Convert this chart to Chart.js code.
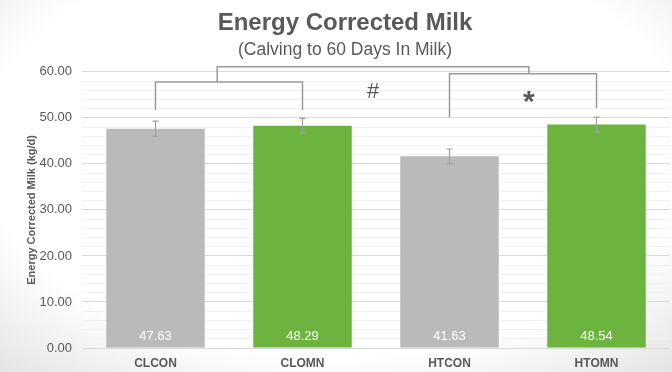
<!DOCTYPE html>
<html>
<head>
<meta charset="utf-8">
<script src="https://cdn.jsdelivr.net/npm/chart.js@4.4.0/dist/chart.umd.min.js"></script>
<style>
	html, body { margin: 0; padding: 0; }
	body {
		width: 672px;
		height: 372px;
		background: radial-gradient(ellipse 75% 80% at 50% 40%, #ffffff 70%, #e4e4e4 100%);
	}
	#wrap { width: 672px; height: 372px; }
</style>
</head>
<body>
<div id="wrap"><canvas id="ecm-chart"></canvas></div>
<script>
// data
const groups = ['CLCON', 'CLOMN', 'HTCON', 'HTOMN'];
const ecmValues = [47.63, 48.29, 41.63, 48.54];
const ecmErrors = [1.65, 1.6, 1.6, 1.6];
const barColors = ['#babbb8', '#6db33f', '#babbb8', '#6db33f'];
const yTicks = [0, 10, 20, 30, 40, 50, 60];

// significance brackets: [from index, to index, bar height, left leg end, right leg end]
const bracketLeft = [0, 1, 57.8, 51.7, 51.7];
const bracketRight = [2, 3, 59.6, 50.2, 52.1];
const bracketTop = [0.42, 2.54, 61.1, 57.8, 59.6];
const sigMarks = [
	{ text: '#', x: 1.48, y: 55.6 },
	{ text: '*', x: 2.54, y: 54.6 },
];

const textGray = '#595959';

// ===================== Plugins ===========================

const errorBars = {
	id: 'errorBars',
	afterDatasetsDraw(chart) {
		const ctx = chart.ctx;
		const y = chart.scales.y;
		const meta = chart.getDatasetMeta(0);
		ctx.save();
		ctx.strokeStyle = '#a0a0a0';
		ctx.lineWidth = 1.2;
		meta.data.forEach((bar, i) => {
			const top = y.getPixelForValue(ecmValues[i] + ecmErrors[i]);
			const bot = y.getPixelForValue(ecmValues[i] - ecmErrors[i]);
			ctx.beginPath();
			ctx.moveTo(bar.x, top);
			ctx.lineTo(bar.x, bot);
			ctx.moveTo(bar.x - 3, top);
			ctx.lineTo(bar.x + 3, top);
			ctx.moveTo(bar.x - 3, bot);
			ctx.lineTo(bar.x + 3, bot);
			ctx.stroke();
		});
		// values inside bars
		ctx.fillStyle = '#ffffff';
		ctx.font = '13px "Liberation Sans", Arial, sans-serif';
		ctx.textAlign = 'center';
		ctx.textBaseline = 'middle';
		meta.data.forEach((bar, i) => {
			ctx.fillText(ecmValues[i].toFixed(2), bar.x, y.getPixelForValue(0) - 12);
		});
		ctx.restore();
	},
};

const brackets = {
	id: 'brackets',
	afterDraw(chart) {
		const ctx = chart.ctx;
		const x = chart.scales.x;
		const y = chart.scales.y;
		const px = (v) => {
			const lo = Math.floor(v);
			const hi = Math.min(lo + 1, groups.length - 1);
			const a = x.getPixelForValue(lo);
			const b = x.getPixelForValue(hi);
			return a + (b - a) * (v - lo);
		};
		ctx.save();
		ctx.strokeStyle = '#9a9a9a';
		ctx.lineWidth = 1.5;
		[bracketLeft, bracketRight, bracketTop].forEach((b) => {
			const x1 = px(b[0]);
			const x2 = px(b[1]);
			ctx.beginPath();
			ctx.moveTo(x1, y.getPixelForValue(b[3]));
			ctx.lineTo(x1, y.getPixelForValue(b[2]));
			ctx.lineTo(x2, y.getPixelForValue(b[2]));
			ctx.lineTo(x2, y.getPixelForValue(b[4]));
			ctx.stroke();
		});
		ctx.fillStyle = textGray;
		ctx.textAlign = 'center';
		ctx.textBaseline = 'middle';
		sigMarks.forEach((m) => {
			ctx.font = m.text === '*' ? 'bold 30px "Liberation Sans", Arial, sans-serif' : '22px "Liberation Sans", Arial, sans-serif';
			ctx.fillText(m.text, px(m.x), y.getPixelForValue(m.y) + (m.text === '*' ? 6 : 0));
		});
		ctx.restore();
	},
};

// ===================== Chart ===========================

const ecmCanvas = document.querySelector('#ecm-chart');

const ecmData = {
	labels: groups,
	datasets: [
		{
			data: ecmValues,
			backgroundColor: barColors,
			categoryPercentage: 0.67,
			barPercentage: 1,
		},
	],
};

const ecmOptions = {
	responsive: true,
	maintainAspectRatio: false,
	animation: false,
	layout: {
		padding: { left: 20, right: 2, top: 2, bottom: -8 },
	},
	scales: {
		x: {
			grid: { display: false, drawTicks: false },
			border: { display: false },
			ticks: {
				padding: 10,
				color: textGray,
				font: { family: '"Liberation Sans", Arial, sans-serif', size: 12, weight: 'bold', lineHeight: 1 },
			},
		},
		y: {
			min: 0,
			max: 60,
			border: { display: false },
			afterFit: (scale) => {
				scale.width = 62;
			},
			grid: {
				color: (c) => (c.tick && c.tick.value % 10 === 0 ? '#d9d9d9' : '#f1f1f1'),
				drawTicks: false,
			},
			ticks: {
				stepSize: 2,
				autoSkip: false,
				padding: 10,
				color: textGray,
				font: { family: '"Liberation Sans", Arial, sans-serif', size: 13 },
				callback: (v) => (yTicks.includes(v) ? v.toFixed(2) : ''),
			},
			title: {
				display: true,
				text: 'Energy Corrected Milk (kg/d)',
				color: textGray,
				padding: { top: 5, bottom: 0 },
				font: { family: '"Liberation Sans", Arial, sans-serif', size: 11, weight: 'bold' },
			},
		},
	},
	plugins: {
		legend: { display: false },
		tooltip: { enabled: false },
		title: {
			display: true,
			text: 'Energy Corrected Milk',
			color: textGray,
			padding: { top: 7, bottom: 0 },
			font: { family: '"Liberation Sans", Arial, sans-serif', size: 24, weight: 'bold' },
		},
		subtitle: {
			display: true,
			text: '(Calving to 60 Days In Milk)',
			color: textGray,
			padding: { top: 2, bottom: 11 },
			font: { family: '"Liberation Sans", Arial, sans-serif', size: 17.5 },
		},
	},
};

const ecmChart = new Chart(ecmCanvas, {
	type: 'bar',
	data: ecmData,
	options: ecmOptions,
	plugins: [errorBars, brackets],
});
</script>
</body>
</html>
